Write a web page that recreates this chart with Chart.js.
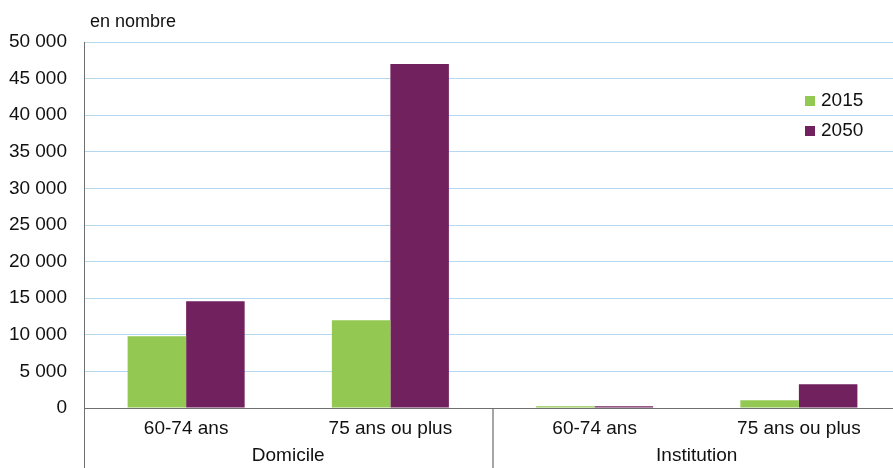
<!DOCTYPE html>
<html>
<head>
<meta charset="utf-8">
<script src="https://cdn.jsdelivr.net/npm/chart.js@4"></script>
<style>
  html, body { margin: 0; padding: 0; background: #fff; overflow: hidden; }
  #wrap { width: 901px; height: 468px; position: relative; }
</style>
</head>
<body>
<div id="wrap"><canvas id="chart"></canvas></div>
<script>
const categories = ['60-74 ans', '75 ans ou plus', '60-74 ans', '75 ans ou plus'];
const groups = ['Domicile', 'Institution'];
const seriesNames = ['2015', '2050'];
const values2015 = [9800, 12000, 250, 1050];
const values2050 = [14600, 47000, 250, 3250];
const yTicks = [0, 5000, 10000, 15000, 20000, 25000, 30000, 35000, 40000, 45000, 50000];

const FONT = "'Liberation Sans', Arial, sans-serif";
const colors = { green: '#93c952', purple: '#70215e', grid: '#b3d8ef', axis: '#6f6f6f', sep: '#a6a6a6', text: '#111' };

Chart.defaults.font.family = FONT;
Chart.defaults.font.size = 19;
Chart.defaults.color = colors.text;

function fmt(v) {
  return String(v).replace(/\B(?=(\d{3})+(?!\d))/g, ' ');
}

// group labels, separators, unit label and legend
const decor = {
  id: 'decor',
  afterDraw(chart) {
    const ctx = chart.ctx;
    const x = chart.scales.x;
    const area = chart.chartArea;
    const h = chart.height;
    ctx.save();
    ctx.lineWidth = 1;
    ctx.strokeStyle = colors.axis;
    ctx.beginPath();
    ctx.moveTo(Math.round(area.left) + 0.5, area.bottom);
    ctx.lineTo(Math.round(area.left) + 0.5, h);
    ctx.stroke();
    // separator between groups
    const sep = (x.getPixelForTick(1) + x.getPixelForTick(2)) / 2;
    ctx.strokeStyle = colors.sep;
    ctx.lineWidth = 2;
    ctx.beginPath();
    ctx.moveTo(Math.round(sep), area.bottom + 1);
    ctx.lineTo(Math.round(sep), h);
    ctx.stroke();

    ctx.fillStyle = colors.text;
    ctx.font = '19px ' + FONT;
    ctx.textAlign = 'center';
    ctx.textBaseline = 'middle';
    groups.forEach((g, i) => {
      const cx = (x.getPixelForTick(i * 2) + x.getPixelForTick(i * 2 + 1)) / 2;
      ctx.fillText(g, cx, h - 12);
    });

    ctx.font = '18px ' + FONT;
    ctx.textAlign = 'left';
    ctx.fillText('en nombre', 90, 22);

    // legend
    ctx.font = '19px ' + FONT;
    chart.data.datasets.forEach((ds, i) => {
      const ly = 101 + i * 30;
      ctx.fillStyle = ds.backgroundColor;
      ctx.fillRect(805, ly - 5, 10, 10);
      ctx.fillStyle = colors.text;
      ctx.fillText(ds.label, 821, ly);
    });
    ctx.restore();
  }
};

new Chart(document.getElementById('chart'), {
  type: 'bar',
  data: {
    labels: categories,
    datasets: [
      { label: seriesNames[0], data: values2015, backgroundColor: colors.green },
      { label: seriesNames[1], data: values2050, backgroundColor: colors.purple }
    ]
  },
  options: {
    responsive: true,
    maintainAspectRatio: false,
    animation: false,
    layout: { padding: { top: 42, right: 0, left: 0, bottom: 0 } },
    datasets: { bar: { categoryPercentage: 0.573, barPercentage: 1 } },
    scales: {
      x: {
        grid: { display: false, drawTicks: false },
        border: { color: colors.axis },
        ticks: { padding: 9, maxRotation: 0 },
        afterFit: s => { s.height = 60; }
      },
      y: {
        min: 0,
        max: 50000,
        afterBuildTicks: s => { s.ticks = yTicks.map(v => ({ value: v })); },
        grid: {
          drawTicks: false,
          color: ctx => ctx.tick.value === 0 ? colors.axis : colors.grid
        },
        border: { color: colors.axis },
        ticks: { padding: 17, callback: v => fmt(v) },
        afterFit: s => { s.width = 84; }
      }
    },
    plugins: {
      legend: { display: false },
      tooltip: { enabled: false }
    }
  },
  plugins: [decor]
});
</script>
</body>
</html>
